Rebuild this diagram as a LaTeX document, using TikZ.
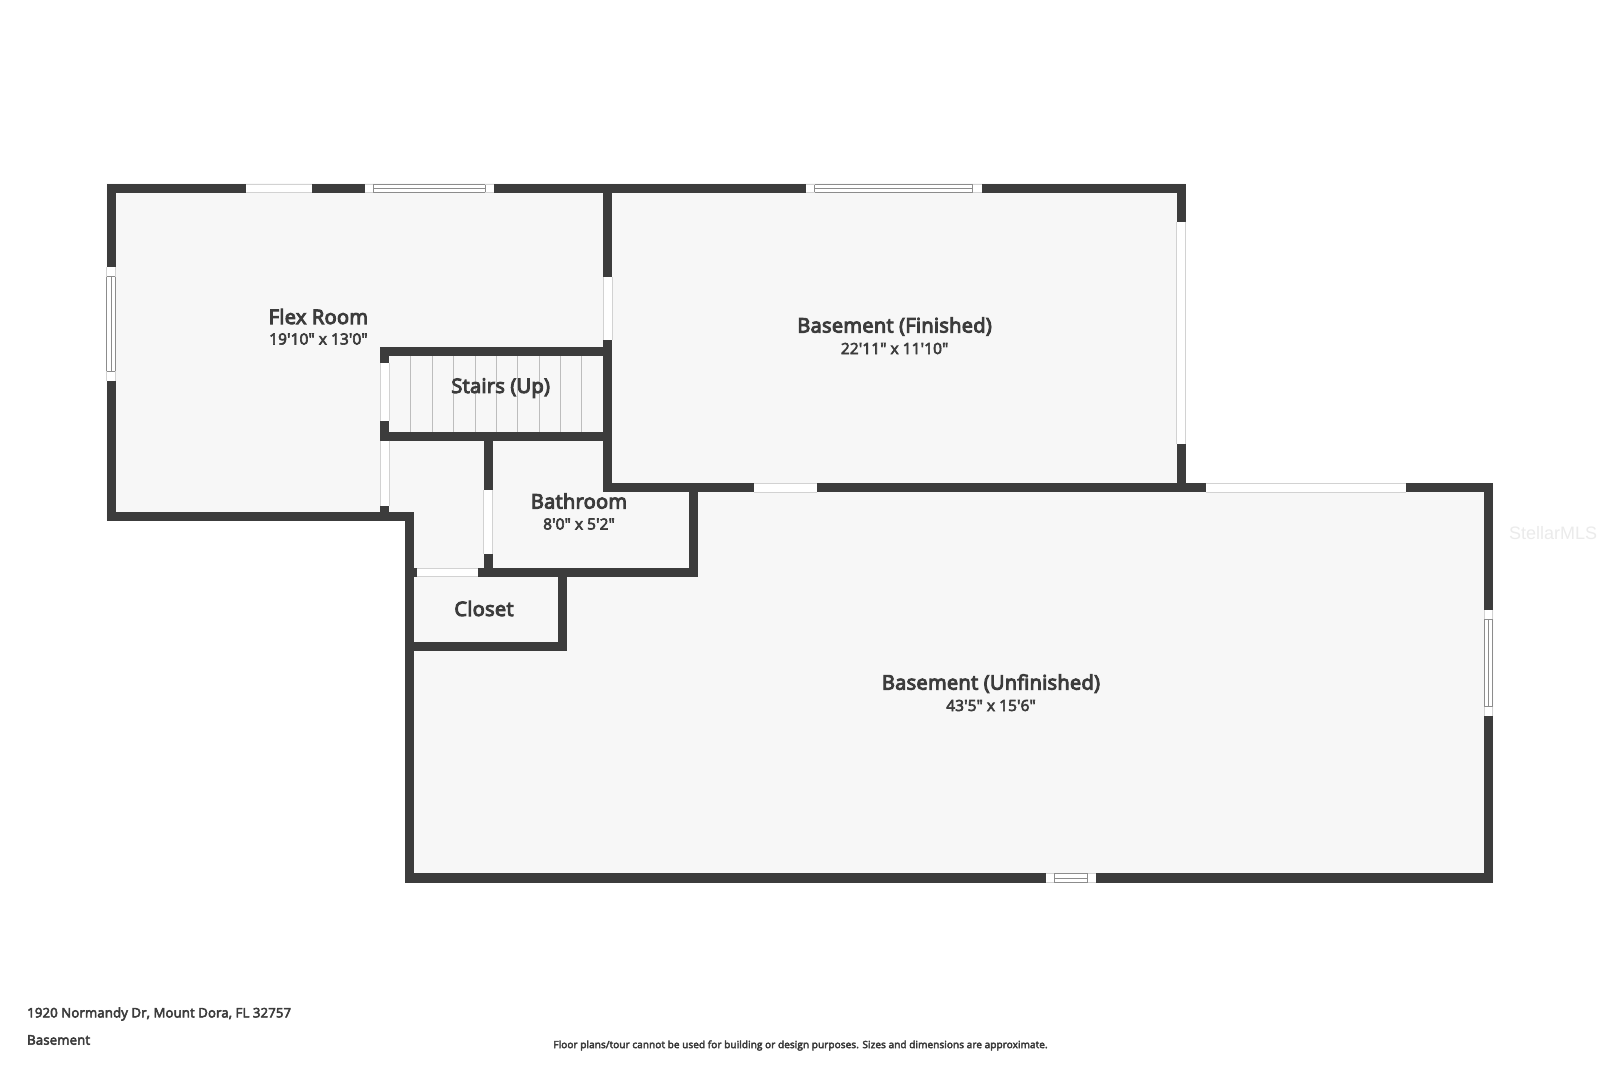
\documentclass[tikz,border=0pt]{standalone}
\usepackage{fontspec}
\newfontfamily\fsemi{Open Sans}[FakeBold=5,LetterSpace=1.6]
\newfontfamily\freg{Open Sans}[FakeBold=4,LetterSpace=0.9]
\definecolor{wallc}{HTML}{3C3C3C}
\definecolor{floorc}{HTML}{F7F7F7}
\definecolor{edgec}{HTML}{D2D2D2}
\definecolor{winc}{HTML}{8C8C8C}
\definecolor{stairc}{HTML}{BDBDBD}
\definecolor{markc}{HTML}{EBEBEB}
\tikzset{
  wallpart/.style={fill=wallc,draw=none},
  openpart/.style={fill=white,draw=none},
  openedge/.style={draw=edgec,line width=1pt},
  winedge/.style={draw=winc,line width=0.9pt},
  treadline/.style={draw=stairc,line width=1pt},
  roomtitle/.style={text=wallc,font=\fsemi\fontsize{20}{20}\selectfont,inner sep=0pt},
  roomdim/.style={text=wallc,font=\freg\fontsize{15.4}{15.4}\selectfont,inner sep=0pt},
  foot/.style={text=wallc,font=\freg\fontsize{13.2}{13.2}\selectfont,inner sep=0pt,anchor=west},
  footsmall/.style={text=wallc,font=\freg\fontsize{10}{10}\selectfont,inner sep=0pt}
}
% wall rectangle
\newcommand{\wl}[4]{\fill[wallpart] (#1,#2) rectangle (#3,#4);}
% opening, horizontal (x1,x2,y1,y2)
\newcommand{\doorH}[4]{\fill[openpart] (#1,#3) rectangle (#2,#4);
  \draw[openedge] (#1,#3) -- (#2,#3) (#1,#4) -- (#2,#4);}
\newcommand{\doorV}[4]{\fill[openpart] (#3,#1) rectangle (#4,#2);
  \draw[openedge] (#3,#1) -- (#3,#2) (#4,#1) -- (#4,#2);}
% window: a1 a2 (outer extent), b1 b2 (inner bars), c1 c2 (wall faces)
\newcommand{\winH}[6]{\fill[openpart] (#1,#5) rectangle (#2,#6);
  \draw[winedge] (#3,#5) -- (#4,#5) (#3,#6) -- (#4,#6)
    (#3,#5) -- (#3,#6) (#4,#5) -- (#4,#6);
  \draw[edgec,line width=.8pt] (#1,#5) -- (#3,#5) (#1,#6) -- (#3,#6) (#4,#5) -- (#2,#5) (#4,#6) -- (#2,#6);
  \draw[winedge,line width=.8pt] (#3,{#5+4.4}) -- (#4,{#5+4.4});}
\newcommand{\winV}[6]{\fill[openpart] (#5,#1) rectangle (#6,#2);
  \draw[winedge] (#5,#3) -- (#5,#4) (#6,#3) -- (#6,#4)
    (#5,#3) -- (#6,#3) (#5,#4) -- (#6,#4);
  \draw[edgec,line width=.8pt] (#5,#1) -- (#5,#3) (#6,#1) -- (#6,#3) (#5,#4) -- (#5,#2) (#6,#4) -- (#6,#2);
  \draw[winedge,line width=.8pt] ({#5+4.4},#3) -- ({#5+4.4},#4);}
\begin{document}
\begin{tikzpicture}[x=1pt,y=-1pt]
\useasboundingbox (0,0) rectangle (1600,1066);
\fill[white] (0,0) rectangle (1600,1066);
% floor
\fill[floorc] (106.5,183.3) -- (1185.7,183.3) -- (1185.7,483.3) -- (1493,483.3) -- (1493,882.7) -- (405.3,882.7) -- (405.3,520.7) -- (106.5,520.7) -- cycle;
% outer walls
\wl{106.5}{184}{1185.7}{192.5}
\wl{106.5}{184}{115.8}{520.7}
\wl{106.5}{511.7}{414}{520.7}
\wl{405.3}{511.7}{414}{882.7}
\wl{405.3}{873.4}{1493}{882.7}
\wl{1483.8}{483.3}{1493}{882.7}
\wl{603.4}{483.3}{1493}{492.4}
\wl{1176.7}{184}{1185.7}{492.4}
% inner walls
\wl{603.4}{184}{612.4}{492.4}
\wl{380.3}{347.3}{612.4}{356}
\wl{380.3}{347.3}{389.3}{440.7}
\wl{380.3}{432}{612.4}{440.7}
\wl{380.3}{440.7}{389.3}{520.7}
\wl{483.7}{432}{492.7}{577}
\wl{405.3}{568.3}{698}{577}
\wl{689.3}{483.3}{698}{577}
\wl{558}{568.3}{566.7}{651}
\wl{405.3}{642.3}{566.7}{651}
% openings
\doorH{246.3}{311.8}{184}{192.6}
\doorH{754}{817}{483.4}{492.3}
\doorH{1205.6}{1405.8}{483.4}{492.3}
\doorH{417.3}{477.7}{568.5}{576.9}
\doorV{277.3}{340}{603.6}{612.2}
\doorV{221.7}{444}{1176.9}{1185.5}
\doorV{363.3}{421}{380.5}{389.1}
\doorV{440.7}{505.7}{380.5}{389.1}
\doorV{490}{554.3}{483.9}{492.5}
% windows
\winH{364.5}{493.6}{373.4}{485}{184}{192.6}
\winH{806}{981.7}{814.7}{972.7}{184}{192.6}
\winH{1046.2}{1096.3}{1054.3}{1087.9}{873.7}{882.5}
\winV{267.3}{380.7}{276.7}{371.3}{106.8}{115.6}
\winV{610}{716}{619.3}{706.7}{1484}{1492.8}
% stair treads
\foreach \tx in {410.7,432.3,453.7,475,496.3,517.7,539,560.3,581.7}
  \draw[treadline] (\tx,356) -- (\tx,432);
% labels
\node[roomtitle] (flex) at (318.4,316.5) {Flex Room};
\node[roomdim] (flexd) at (318.4,339) {19'10" x 13'0"};
\node[roomtitle] (fin) at (894.6,326.5) {Basement (Finished)};
\node[roomdim] (find) at (894.6,348.5) {22'11" x 11'10"};
\node[roomtitle] (stairs) at (500.7,388) {Stairs (Up)};
\node[roomtitle] (bath) at (579,501) {Bathroom};
\node[roomdim] (bathd) at (579,524) {8'0" x 5'2"};
\node[roomtitle] (closet) at (484,608.5) {Closet};
\node[roomtitle] (unf) at (991,683.5) {Basement (Unfinished)};
\node[roomdim] (unfd) at (991,705.5) {43'5" x 15'6"};
\node[foot] (addr) at (27,1014) {1920 Normandy Dr, Mount Dora, FL 32757};
\node[foot] (lvl) at (27,1040) {Basement};
\node[footsmall] (note) at (800.5,1045.5) {Floor plans/tour cannot be used for building or design purposes. Sizes and dimensions are approximate.};
\node[text=markc,font=\fontspec{Liberation Sans}\fontsize{18}{18}\selectfont,inner sep=0pt] (mls) at (1553,533) {StellarMLS};
\end{tikzpicture}
\end{document}
